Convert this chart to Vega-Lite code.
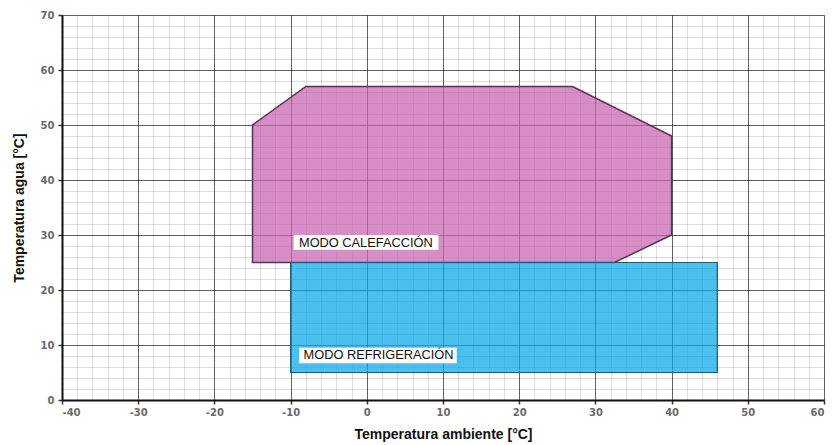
{
  "$schema": "https://vega.github.io/schema/vega-lite/v6.json",
  "width": 762,
  "height": 385,
  "autosize": {"type": "none"},
  "padding": {"left": 62, "top": 15, "right": 9, "bottom": 45},
  "background": "white",
  "config": {"view": {"stroke": null}},
  "datasets": {
    "poly": [
      {"mode": "calefaccion", "i": 1, "x": -15, "y": 25},
      {"mode": "calefaccion", "i": 2, "x": -15, "y": 50},
      {"mode": "calefaccion", "i": 3, "x": -8, "y": 57},
      {"mode": "calefaccion", "i": 4, "x": 27, "y": 57},
      {"mode": "calefaccion", "i": 5, "x": 40, "y": 48},
      {"mode": "calefaccion", "i": 6, "x": 40, "y": 30},
      {"mode": "calefaccion", "i": 7, "x": 32.5, "y": 25},
      {"mode": "refrigeracion", "i": 1, "x": -10, "y": 5},
      {"mode": "refrigeracion", "i": 2, "x": -10, "y": 25},
      {"mode": "refrigeracion", "i": 3, "x": 46, "y": 25},
      {"mode": "refrigeracion", "i": 4, "x": 46, "y": 5}
    ],
    "labels": [
      {"label": "MODO CALEFACCIÓN", "x": -8.9, "y": 28.6, "x1": -9.6, "x2": 9.4, "y1": 27.3, "y2": 30},
      {"label": "MODO REFRIGERACIÓN", "x": -8.3, "y": 8.1, "x1": -8.9, "x2": 11.8, "y1": 6.7, "y2": 9.5}
    ]
  },
  "resolve": {"axis": {"x": "independent", "y": "independent"}},
  "layer": [
    {
      "data": {"name": "poly"},
      "transform": [{"filter": "datum.mode == 'calefaccion'"}],
      "mark": {"type": "line", "interpolate": "linear-closed", "fill": "#c763b1", "fillOpacity": 0.72, "stroke": "#5a3252", "strokeWidth": 1.5},
      "encoding": {
        "x": {"field": "x", "type": "quantitative", "scale": {"domain": [-40, 60], "nice": false, "zero": false},
          "axis": {"orient": "bottom", "values": [-38,-36,-34,-32,-28,-26,-24,-22,-18,-16,-14,-12,-8,-6,-4,-2,2,4,6,8,12,14,16,18,22,24,26,28,32,34,36,38,42,44,46,48,52,54,56,58],
            "grid": true, "gridColor": "#000", "gridOpacity": 0.13, "gridWidth": 1, "labels": false, "ticks": false, "domain": false, "title": null}},
        "y": {"field": "y", "type": "quantitative", "scale": {"domain": [0, 70], "nice": false, "zero": false},
          "axis": {"orient": "left", "values": [2,4,6,8,12,14,16,18,22,24,26,28,32,34,36,38,42,44,46,48,52,54,56,58,62,64,66,68],
            "grid": true, "gridColor": "#000", "gridOpacity": 0.13, "gridWidth": 1, "labels": false, "ticks": false, "domain": false, "title": null}},
        "order": {"field": "i", "type": "quantitative"}
      }
    },
    {
      "data": {"name": "poly"},
      "transform": [{"filter": "datum.mode == 'refrigeracion'"}],
      "mark": {"type": "line", "interpolate": "linear-closed", "fill": "#06a6e6", "fillOpacity": 0.72, "stroke": "#1d5a74", "strokeWidth": 1.2},
      "encoding": {
        "x": {"field": "x", "type": "quantitative", "axis": {"orient": "bottom", "values": [-40,-30,-20,-10,0,10,20,30,40,50,60],
            "labelExpr": "'' + datum.value",
            "grid": true, "gridColor": "#000", "gridOpacity": 0.62, "gridWidth": 1,
            "domain": true, "domainColor": "#111", "domainWidth": 2,
            "ticks": true, "tickColor": "#333", "tickSize": 4, "tickWidth": 1.5,
            "labelFont": "DejaVu Sans", "labelFontSize": 10, "labelFontWeight": "bold", "labelColor": "#6a6a6a", "labelPadding": 3,
            "title": "Temperatura ambiente [°C]", "titleFont": "Liberation Sans", "titleFontSize": 14, "titleFontWeight": "bold", "titleColor": "#111", "titlePadding": 10}},
        "y": {"field": "y", "type": "quantitative", "axis": {"orient": "left", "values": [0,10,20,30,40,50,60,70],
            "grid": true, "gridColor": "#000", "gridOpacity": 0.62, "gridWidth": 1,
            "domain": true, "domainColor": "#111", "domainWidth": 2,
            "ticks": true, "tickColor": "#333", "tickSize": 4, "tickWidth": 1.5,
            "labelFont": "DejaVu Sans", "labelFontSize": 10, "labelFontWeight": "bold", "labelColor": "#6a6a6a", "labelPadding": 4,
            "title": "Temperatura agua [°C]", "titleFont": "Liberation Sans", "titleFontSize": 14, "titleFontWeight": "bold", "titleColor": "#111", "titlePadding": 14}},
        "order": {"field": "i", "type": "quantitative"}
      }
    },
    {
      "data": {"name": "labels"},
      "mark": {"type": "rect", "fill": "white"},
      "encoding": {
        "x": {"field": "x1", "type": "quantitative", "axis": null},
        "x2": {"field": "x2"},
        "y": {"field": "y1", "type": "quantitative", "axis": null},
        "y2": {"field": "y2"}
      }
    },
    {
      "data": {"name": "labels"},
      "mark": {"type": "text", "align": "left", "baseline": "middle", "font": "Liberation Sans", "fontSize": 12.8, "color": "#111"},
      "encoding": {
        "x": {"field": "x", "type": "quantitative", "axis": null},
        "y": {"field": "y", "type": "quantitative", "axis": null},
        "text": {"field": "label"}
      }
    }
  ]
}
